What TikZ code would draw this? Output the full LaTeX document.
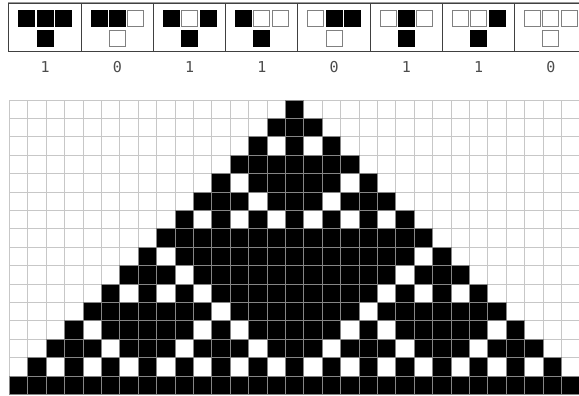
\documentclass[tikz,border=0pt]{standalone}
\usepackage{fontspec}
\setmonofont{DejaVu Sans Mono}
\usetikzlibrary{positioning}
\colorlet{st0}{white}
\colorlet{st1}{black}
\colorlet{bd0}{black!50}
\colorlet{bd1}{black}
\begin{document}
\begin{tikzpicture}[x=1pt, y=-1pt,
      cell/.style={rectangle, inner sep=0pt, minimum size=18.4pt, draw=black!22, line width=0.9pt, fill=white},
      oncell/.style={cell, fill=black, draw=black!48},
      rulebox/.style={rectangle, inner sep=0pt, minimum width=72.25pt, minimum height=48.2pt, draw=black!75, line width=1pt},
      bitcell/.style={rectangle, inner sep=0pt, minimum size=16pt, line width=0.9pt},
      digit/.style={font=\ttfamily\fontsize{15}{15}\selectfont, text=black!70}
    ]
    \useasboundingbox (0,0) rectangle (579,396);

    % Rule table
    \foreach \l/\m/\r/\o [count=\k from 0] in {1/1/1/1, 1/1/0/0, 1/0/1/1, 1/0/0/1,
                                               0/1/1/0, 0/1/0/1, 0/0/1/1, 0/0/0/0} {
      \node[rulebox] (box\k) at (45.1+72.25*\k, 27.6) {};
      \node[bitcell, fill=st\l, draw=bd\l] (left\k) at (26.7+72.25*\k, 18.5) {};
      \node[bitcell, fill=st\m, draw=bd\m] (mid\k) at (45.1+72.25*\k, 18.5) {};
      \node[bitcell, fill=st\r, draw=bd\r] (right\k) at (63.5+72.25*\k, 18.5) {};
      \node[bitcell, fill=st\o, draw=bd\o] (new\k) at (45.1+72.25*\k, 38.2) {};
      \node[digit] (out\k) at (45.1+72.25*\k, 67) {\o};
    }
    \draw[black!40, line width=1pt] (box0.north west) -- (box7.north east);

    % Empty grid
    \foreach \r in {0,...,15} {
      \foreach \c in {0,...,30} {
        \node[cell] (cell-\r-\c) at (9.5+18.4*\c+9.2, 100+18.4*\r+9.2) {};
      }
    }

    % Live cells, one row per generation
    \foreach \cols [count=\r from 0] in {
        {15},
        {14,15,16},
        {13,15,17},
        {12,13,14,15,16,17,18},
        {11,13,14,15,16,17,19},
        {10,11,12,14,15,16,18,19,20},
        {9,11,13,15,17,19,21},
        {8,9,10,11,12,13,14,15,16,17,18,19,20,21,22},
        {7,9,10,11,12,13,14,15,16,17,18,19,20,21,23},
        {6,7,8,10,11,12,13,14,15,16,17,18,19,20,22,23,24},
        {5,7,9,11,12,13,14,15,16,17,18,19,21,23,25},
        {4,5,6,7,8,9,10,12,13,14,15,16,17,18,20,21,22,23,24,25,26},
        {3,5,6,7,8,9,11,13,14,15,16,17,19,21,22,23,24,25,27},
        {2,3,4,6,7,8,10,11,12,14,15,16,18,19,20,22,23,24,26,27,28},
        {1,3,5,7,9,11,13,15,17,19,21,23,25,27,29},
        {0,1,2,3,4,5,6,7,8,9,10,11,12,13,14,15,16,17,18,19,20,21,22,23,24,25,26,27,28,29,30}} {
      \foreach \c in \cols {
        \node[oncell] (live-\r-\c) at (9.5+18.4*\c+9.2, 100+18.4*\r+9.2) {};
      }
    }

  \end{tikzpicture}
\end{document}
